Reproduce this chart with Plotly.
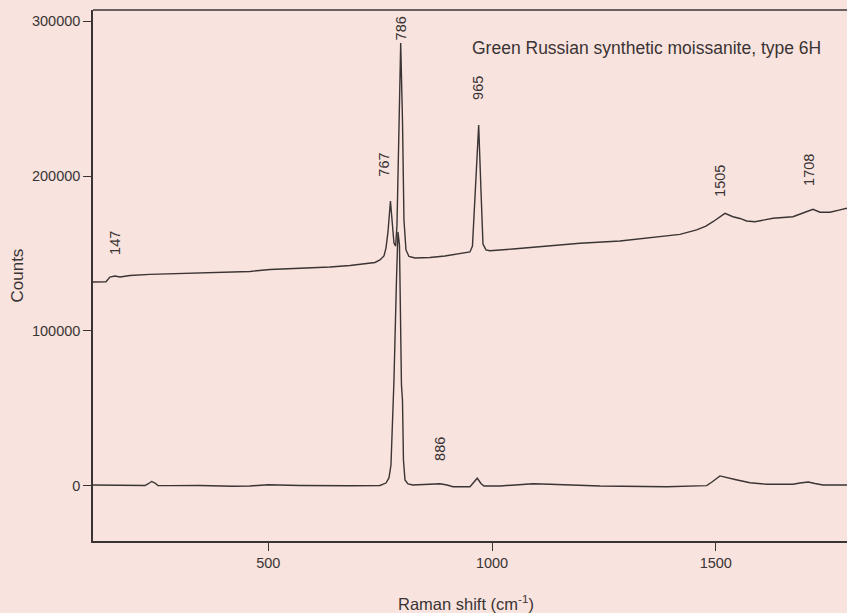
import plotly.graph_objects as go

# Upper spectrum: Green Russian synthetic moissanite, type 6H (offset upward)
upper_x = [108.3, 137.3, 146, 157.5, 168.6, 191, 235.6, 347.3, 459, 503.8, 570.8, 637.9,
           682.6, 716, 738.4, 749.6, 758.5, 763, 767.5, 773, 776.4, 780.9, 784.7, 787.6,
           792, 795.9, 799.9, 803.2, 807.7, 814.4, 827.8, 861.3, 894.8, 928.4, 950.7,
           956.3, 963, 970.2, 975.3, 979.8, 986.5, 995.4, 1046.8, 1122.1, 1196.5, 1285.9,
           1345.6, 1420, 1457.3, 1478, 1493.7, 1507.2, 1520.6, 1538.4, 1554, 1569, 1587.6,
           1627.8, 1672.5, 1699.4, 1717.3, 1732.9, 1755.3, 1777.6, 1793.3]
upper_y = [131600, 131800, 134800, 135500, 134800, 135800, 136500, 137400, 138400, 139700,
           140300, 141300, 142300, 143200, 144200, 145800, 148400, 153500, 163900, 183900,
           171600, 156800, 154800, 168400, 229700, 285800, 236100, 171600, 152300, 148100,
           147100, 147400, 148400, 149700, 151000, 154800, 191000, 232900, 191000, 156100,
           152300, 151800, 152900, 155000, 156600, 158100, 159800, 162300, 165200, 167700,
           170500, 173500, 175900, 173700, 172600, 171000, 170500, 172700, 173700, 176600,
           178500, 176600, 176600, 178100, 179200]

# Lower spectrum
lower_x = [108.3, 168.6, 213, 224.5, 231, 239.4, 246.8, 253.5, 280, 347.3, 421, 459, 499.3,
           526, 570.8, 682.6, 738.4, 749.6, 763, 769.7, 774.2, 780.9, 786.5, 789.8, 793.2,
           795.4, 797.6, 799.9, 802.1, 805.5, 812.2, 823.4, 861.3, 883.7, 899.4, 912.8,
           950.7, 959.7, 967, 975.3, 982, 1017.8, 1062.5, 1091.5, 1129.5, 1241.3, 1390.3,
           1479.7, 1491.5, 1509.4, 1543, 1576.4, 1613.7, 1672.5, 1688.2, 1706.7, 1721.6,
           1739.5, 1793.3]
lower_y = [600, 600, 600, 300, 1300, 2900, 1900, 300, 200, 300, -200, 0, 800, 600, 300, 100,
           300, 300, 1900, 5200, 13500, 68400, 132900, 163900, 155500, 100600, 65200, 55500,
           16800, 3900, 1300, 600, 1300, 1400, 600, -500, -500, 2600, 5000, 1600, 0, 0, 600,
           1400, 1100, 0, -500, 200, 2600, 6500, 4200, 2100, 1100, 1100, 1900, 2600, 1600,
           600, 600]

# Peak labels
peak_labels = ["147", "767", "786", "965", "1505", "1708", "886"]
peak_label_x = [157.4, 757.9, 796.5, 968.6, 1509.4, 1708.3, 883.7]
peak_label_y = [156800, 207100, 295200, 256800, 196800, 203900, 23900]

y_ticks = [0, 100000, 200000, 300000]
y_tick_text = ["0", "100000", "200000", "300000"]
x_ticks = [500, 1000, 1500]
x_tick_text = ["500", "1000", "1500"]

BG = "#f9e3de"
INK = "#3a3434"
FONT = "Liberation Sans, Arial, sans-serif"

fig = go.Figure()
for xs, ys in [(upper_x, upper_y), (lower_x, lower_y)]:
    fig.add_trace(go.Scatter(x=xs, y=ys, mode="lines",
                             line=dict(color=INK, width=1.4), hoverinfo="skip",
                             showlegend=False))

for t, xx, yy in zip(peak_labels, peak_label_x, peak_label_y):
    fig.add_annotation(x=xx, y=yy, text=t, textangle=-90, showarrow=False,
                       font=dict(size=14.5, color=INK, family=FONT),
                       xanchor="center", yanchor="middle")

fig.add_annotation(x=950.7, y=282900, text="Green Russian synthetic moissanite, type 6H",
                   showarrow=False, xanchor="left", yanchor="middle",
                   font=dict(size=17.5, color=INK, family=FONT))

fig.add_annotation(xref="paper", yref="paper", x=0.4947, y=0, yshift=-62,
                   text="Raman shift (cm<sup>-1</sup>)", showarrow=False,
                   xanchor="center", yanchor="middle",
                   font=dict(size=16.5, color=INK, family=FONT))
fig.add_annotation(xref="paper", yref="paper", x=0, y=0.5, xshift=-76,
                   text="Counts", textangle=-90, showarrow=False,
                   xanchor="center", yanchor="middle",
                   font=dict(size=17, color=INK, family=FONT))

# top frame line
fig.add_shape(type="line", xref="paper", yref="paper", x0=0, x1=1, y0=1, y1=1,
              line=dict(color=INK, width=1.5))

fig.update_layout(
    width=847, height=613,
    margin=dict(l=93, r=0, t=10, b=72),
    paper_bgcolor=BG, plot_bgcolor=BG,
    font=dict(family=FONT, size=14, color=INK),
    xaxis=dict(range=[108.3, 1793.3], tickvals=x_ticks, ticktext=x_tick_text,
               ticks="outside", ticklen=8,
               tickcolor=INK, tickwidth=1.2, showline=True, linecolor=INK, linewidth=1.5,
               showgrid=False, zeroline=False, tickfont=dict(size=14.5, color=INK)),
    yaxis=dict(range=[-35500, 307100], tickvals=y_ticks, ticktext=y_tick_text,
               ticks="outside", ticklen=8,
               tickcolor=INK, tickwidth=1.2, showline=True, linecolor=INK, linewidth=1.5,
               showgrid=False, zeroline=False, tickfont=dict(size=14.5, color=INK)),
)

fig.write_html("out.html")
